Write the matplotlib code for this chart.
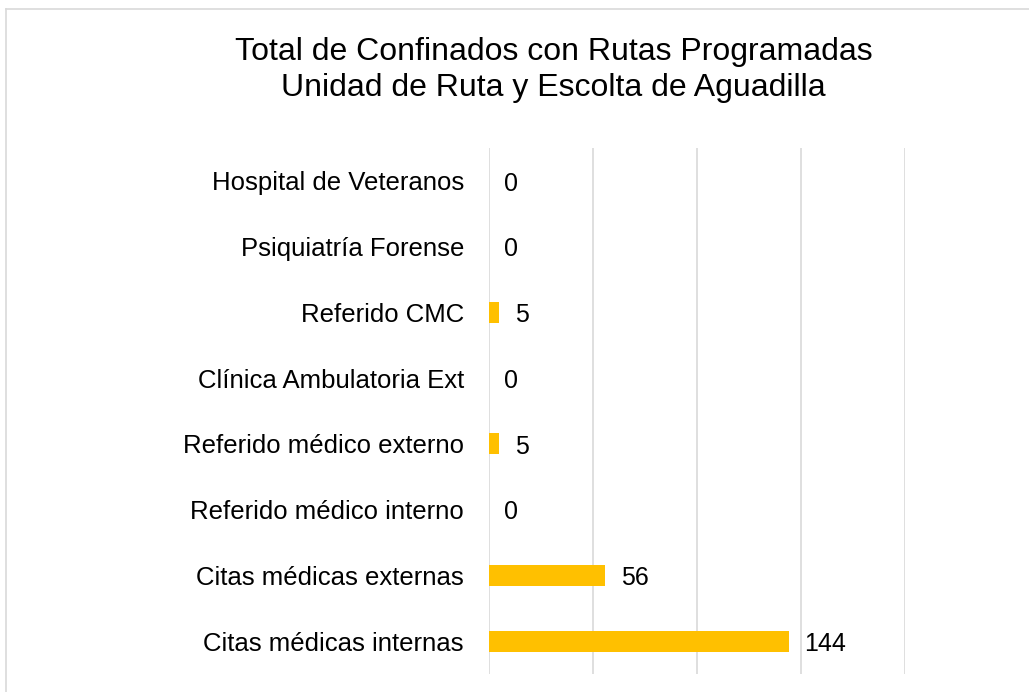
import matplotlib.pyplot as plt
import numpy as np

plt.rcParams['font.family'] = ['Liberation Sans', 'DejaVu Sans']

categorias = ['Citas médicas internas', 'Citas médicas externas', 'Referido médico interno',
              'Referido médico externo', 'Clínica Ambulatoria Ext', 'Referido CMC',
              'Psiquiatría Forense', 'Hospital de Veteranos']
valores = [144, 56, 0, 5, 0, 5, 0, 0]

fig = plt.figure(figsize=(10.29, 6.92), dpi=100)
ax = fig.add_axes([0.4752, 0.026, 0.4043, 0.760])

y = np.arange(len(categorias))
bars = ax.barh(y, valores, height=0.32, color='#FFC000', zorder=3)

for b, v in zip(bars, valores):
    ax.annotate(str(v), (b.get_width(), b.get_y() + b.get_height() / 2),
                xytext=(11, -2), textcoords='offset points',
                ha='left', va='center', fontsize=18, color='#000000')

ax.set_xlim(0, 200)
ax.set_ylim(-0.5, len(categorias) - 0.5)
ax.set_xticks([0, 50, 100, 150, 200])
ax.set_xticklabels([])
ax.set_yticks(y)
ax.set_yticklabels(categorias, fontsize=18.5)
ax.tick_params(axis='both', length=0)
ax.tick_params(axis='y', pad=18)
ax.grid(axis='x', color='#d9d9d9', linewidth=1.2, zorder=0)
for s in ax.spines.values():
    s.set_visible(False)

fig.text(0.538, 0.899, 'Total de Confinados con Rutas Programadas\nUnidad de Ruta y Escolta de Aguadilla',
         ha='center', va='center', fontsize=23, linespacing=1.28)

# marco gris del gráfico
fig.add_artist(plt.Line2D([5.5 / 1029, 1], [1 - 8.5 / 692, 1 - 8.5 / 692], color='#d9d9d9', linewidth=1.2))
fig.add_artist(plt.Line2D([5.5 / 1029, 5.5 / 1029], [0, 1 - 8.5 / 692], color='#d9d9d9', linewidth=1.2))

fig.savefig('out.png', dpi=100, facecolor='white')
